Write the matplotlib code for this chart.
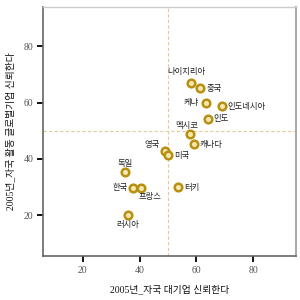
import matplotlib
matplotlib.use("Agg")
import matplotlib.pyplot as plt

# data
countries = ['나이지리아', '중국', '케냐', '인도네시아', '인도', '멕시코', '캐나다',
             '영국', '미국', '터키', '독일', '한국', '프랑스', '러시아']
trust_big = [58, 61.2, 63.3, 69.1, 64.2, 57.9, 59.2, 48.8, 50.2, 53.7, 34.9, 37.7, 40.6, 35.9]
trust_global = [67, 65, 60, 58.7, 54.3, 49, 45.1, 42.8, 41.2, 29.9, 35.4, 29.7, 29.7, 20.2]
xticks = [20, 40, 60, 80]
yticks = [20, 40, 60, 80]

# label offsets in points, with alignment
label_pos = {
    '나이지리아': ((-3, 8), 'center', 'center'),
    '중국': ((5, 0), 'left', 'center'),
    '케냐': ((-5, 0), 'right', 'center'),
    '인도네시아': ((4, 0), 'left', 'center'),
    '인도': ((4, 0), 'left', 'center'),
    '멕시코': ((-3, 6), 'center', 'center'),
    '캐나다': ((4, 0), 'left', 'center'),
    '영국': ((-9, 5), 'center', 'center'),
    '미국': ((4, 0), 'left', 'center'),
    '터키': ((4, 0), 'left', 'center'),
    '독일': ((0, 6), 'center', 'center'),
    '한국': ((-4, 0), 'right', 'center'),
    '프랑스': ((6, -6), 'center', 'center'),
    '러시아': ((0, -7), 'center', 'center'),
}

plt.rcParams['font.family'] = ['Noto Sans CJK KR', 'DejaVu Sans']
serif = ['Liberation Serif', 'Noto Sans CJK KR']

fig = plt.figure(figsize=(3, 3), dpi=100)
ax = fig.add_axes([0.143, 0.147, 0.843, 0.83])

ax.axvline(50, color='#e3cb94', lw=0.8, ls=(0, (3, 2)), zorder=1)
ax.axhline(50, color='#e3cb94', lw=0.8, ls=(0, (3, 2)), zorder=1)

ax.scatter(trust_big, trust_global, s=30, facecolor='#f3e6b0', edgecolor='#b8900f',
           linewidth=1.8, zorder=3)

for name, x, y in zip(countries, trust_big, trust_global):
    off, ha, va = label_pos[name]
    ax.annotate(name, (x, y), xytext=off, textcoords='offset points',
                ha=ha, va=va, fontsize=6, color='#222222')

ax.set_xlim(6, 95)
ax.set_ylim(5.5, 94)
ax.set_xticks(xticks)
ax.set_yticks(yticks)
ax.tick_params(length=4, width=1.3, color='black', labelsize=7, labelcolor='#555555', pad=3)
for lab in ax.get_xticklabels() + ax.get_yticklabels():
    lab.set_family(serif)

for side in ['left', 'bottom']:
    ax.spines[side].set_color('#666666')
    ax.spines[side].set_linewidth(1.2)
ax.spines['top'].set_color('#cccccc')
ax.spines['top'].set_linewidth(1.0)
ax.spines['right'].set_color('#aaaaaa')
ax.spines['right'].set_linewidth(1.5)

ax.set_xlabel('2005년_자국 대기업 신뢰한다', fontsize=7, family=serif, labelpad=7,
              color='#111111', fontweight='medium')
ax.set_ylabel('2005년_자국 활동 글로벌기업 신뢰한다', fontsize=7, family=serif, labelpad=6,
              color='#111111', fontweight='medium')

plt.savefig('out.png', dpi=100)
